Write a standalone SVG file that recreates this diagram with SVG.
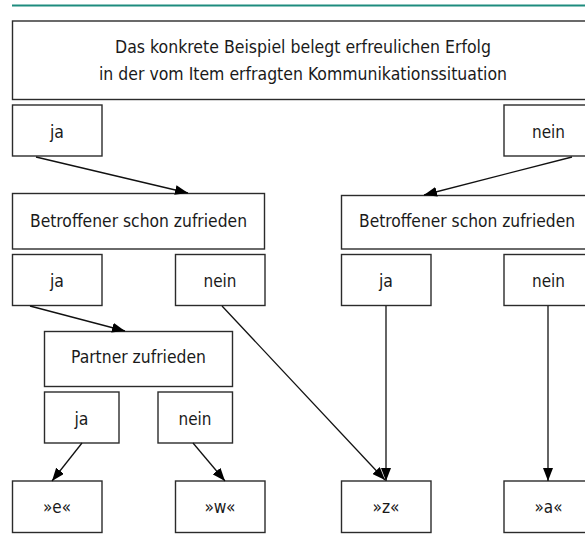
<svg xmlns="http://www.w3.org/2000/svg" width="585" height="552" viewBox="0 0 585 552">
<style>
.box{fill:#fff;stroke:#2b2b2b;stroke-width:1.4}
.t{font-family:"DejaVu Sans Condensed","DejaVu Sans",sans-serif;font-stretch:condensed;font-size:18px;fill:#1a1a1a;text-anchor:middle}
.c{stroke:#111;stroke-width:1.3;fill:none;marker-end:url(#ah)}
</style>
<defs>
<marker id="ah" markerUnits="userSpaceOnUse" markerWidth="13" markerHeight="10" refX="13" refY="5" orient="auto">
<path d="M0,0 L13,5 L0,10 z" fill="#000"/>
</marker>
</defs>
<rect width="585" height="552" fill="#fff"/>
<line x1="12" y1="5.5" x2="585" y2="5.5" stroke="#1e8c7e" stroke-width="2.2"/>

<g id="top"><rect class="box" x="12.5" y="21" width="590" height="78.5"/>
<text class="t" x="303" y="53" textLength="376" lengthAdjust="spacingAndGlyphs">Das konkrete Beispiel belegt erfreulichen Erfolg</text>
<text class="t" x="303" y="79.5" textLength="408" lengthAdjust="spacingAndGlyphs">in der vom Item erfragten Kommunikationssituation</text></g>

<g id="ja1"><rect class="box" x="12.5" y="105" width="89.5" height="51"/><text class="t" x="57" y="137.5" textLength="14" lengthAdjust="spacingAndGlyphs">ja</text></g>
<g id="nein1"><rect class="box" x="504" y="105" width="90" height="51"/><text class="t" x="548.5" y="137.5" textLength="33" lengthAdjust="spacingAndGlyphs">nein</text></g>

<g id="betL"><rect class="box" x="12.5" y="193.5" width="252" height="55.5"/><text class="t" x="138.5" y="226.7" textLength="217" lengthAdjust="spacingAndGlyphs">Betroffener schon zufrieden</text></g>
<g id="betR"><rect class="box" x="341.5" y="195.5" width="260" height="53.5"/><text class="t" x="467" y="226.7" textLength="216" lengthAdjust="spacingAndGlyphs">Betroffener schon zufrieden</text></g>

<g id="ja2L"><rect class="box" x="12.5" y="254.5" width="89.5" height="51"/><text class="t" x="57" y="286.5" textLength="14" lengthAdjust="spacingAndGlyphs">ja</text></g>
<g id="nein2L"><rect class="box" x="175.5" y="254.5" width="89.5" height="51"/><text class="t" x="220" y="286.5" textLength="33" lengthAdjust="spacingAndGlyphs">nein</text></g>
<g id="ja2R"><rect class="box" x="341.5" y="254.5" width="89.5" height="51"/><text class="t" x="386" y="286.5" textLength="14" lengthAdjust="spacingAndGlyphs">ja</text></g>
<g id="nein2R"><rect class="box" x="504" y="254.5" width="90" height="51"/><text class="t" x="548.5" y="286.5" textLength="33" lengthAdjust="spacingAndGlyphs">nein</text></g>

<g id="partner"><rect class="box" x="44.5" y="331.5" width="188" height="55"/><text class="t" x="138.5" y="363.3" textLength="135" lengthAdjust="spacingAndGlyphs">Partner zufrieden</text></g>
<g id="ja3"><rect class="box" x="44.5" y="392" width="74.5" height="51"/><text class="t" x="81.5" y="424.5" textLength="14" lengthAdjust="spacingAndGlyphs">ja</text></g>
<g id="nein3"><rect class="box" x="158" y="392" width="74.5" height="51"/><text class="t" x="195" y="424.5" textLength="33" lengthAdjust="spacingAndGlyphs">nein</text></g>

<g id="e"><rect class="box" x="12.5" y="481" width="89.5" height="51.5"/><text class="t" x="57" y="513.3" textLength="28" lengthAdjust="spacingAndGlyphs">»e«</text></g>
<g id="w"><rect class="box" x="175.5" y="481" width="89.5" height="51.5"/><text class="t" x="220" y="513.3" textLength="31" lengthAdjust="spacingAndGlyphs">»w«</text></g>
<g id="z"><rect class="box" x="341.5" y="481" width="89.5" height="51.5"/><text class="t" x="386" y="513.3" textLength="27" lengthAdjust="spacingAndGlyphs">»z«</text></g>
<g id="a"><rect class="box" x="504" y="481" width="90" height="51.5"/><text class="t" x="548.5" y="513.3" textLength="28" lengthAdjust="spacingAndGlyphs">»a«</text></g>

<g id="connectors">
<line class="c" x1="36" y1="157" x2="188" y2="193"/>
<line class="c" x1="572" y1="157" x2="424" y2="195"/>
<line class="c" x1="30" y1="306" x2="125" y2="331"/>
<line class="c" x1="222" y1="306" x2="385" y2="480"/>
<line class="c" x1="386" y1="306" x2="386" y2="481"/>
<line class="c" x1="548" y1="306" x2="548" y2="481"/>
<line class="c" x1="82" y1="443" x2="52" y2="481"/>
<line class="c" x1="193" y1="443" x2="225" y2="481"/>
</g>
</svg>
